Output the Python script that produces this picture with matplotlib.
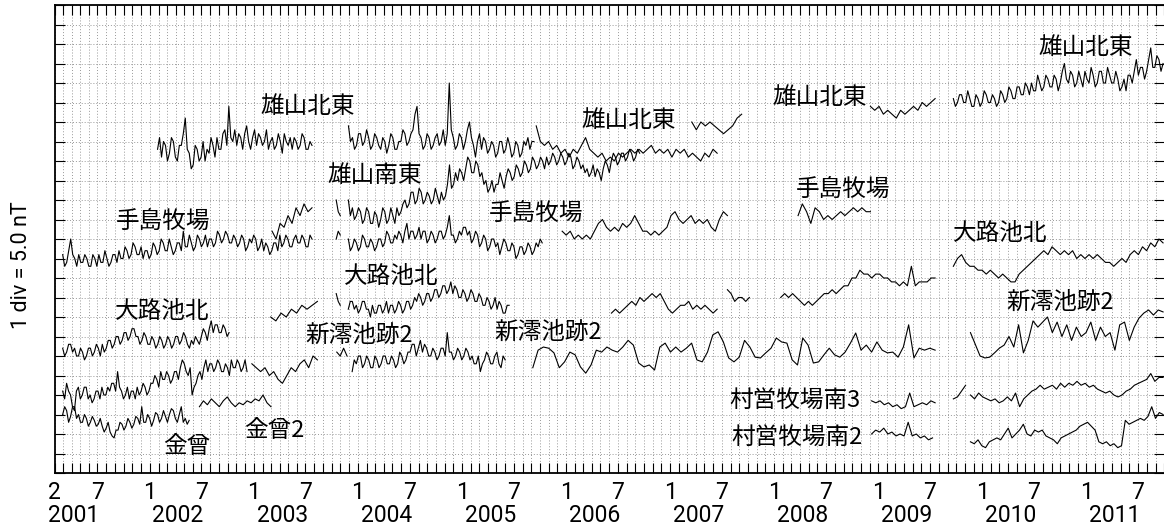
import numpy as np
import pandas as pd
import matplotlib
matplotlib.use("Agg")
import matplotlib.pyplot as plt
import matplotlib.dates as mdates
from matplotlib.ticker import FixedLocator, FixedFormatter, MultipleLocator, NullFormatter

# ====================== DATA (nT, relative offsets) ======================
# each trace: (start, end) span + values sampled evenly inside it, None = gap

# 雄山北東
oyama_ne_a_span = ("2002-01-28", "2003-07-24")
oyama_ne_a = [83, 86, 81, 85, 84, 80, 82, 86, 85, 81, 80, 84, 84, 87, 91, 83, 82, 78, 79, 84,
              83, 80, 81, 85, 80, 83, 82, 86, 84, 81, 86, 83, 83, 87, 88, 84, 94, 86, 85, 88,
              84, 87, 86, 83, 87, 89, 85, 83, 86, 88, 84, 87, 86, 84, 85, 88, 83, 85, 86, 83,
              84, 87, 85, 82, 87, 85, 84, 86, 83, 86, 85, 83, 84, 87, 86, 83, 83, 85, 84]
oyama_ne_b1_span = ("2003-11-29", "2005-09-10")
oyama_ne_b1 = [89, 85, 86, 83, 84, 87, 87, 84, 85, 88, 86, 83, 84, 87, 86, 84, 83, 86, 85, 82,
               84, 87, 86, 83, 83, 85, 85, 88, 87, 84, 85, 87, 88, 92, 94, 87, 86, 83, 84, 87,
               86, 83, 84, 86, 87, 84, 85, 88, 84, 87, 100, 88, 86, 83, 84, 87, 86, 83, 85, 88,
               90, 86, 84, 81, 85, 87, 83, 86, 85, 82, 83, 85, 84, 81, 82, 85, 85, 82, 83, 86,
               84, 81, 82, 85, 84, 81, 82, 85, 84, 86, 83, 85, 85]
oyama_ne_b2_span = ("2005-09-18", "2007-06-15")
oyama_ne_b2 = [89, 85, 84, 85, 83, 84, 82, 83, 81, 83, 82, 84, 86, 83, 82, 81, 82, 80, 81, 80,
               82, 81, 82, 83, 82, 83, 82, 83, 84, 82, 83, 82, 83, 81, 83, 82, 83, 81, 82, 81,
               80, 82, 81, 83, 82]
oyama_ne_c_span = ("2007-03-18", "2007-09-09")
oyama_ne_c = [90, 88, 90, 89, 90, 89, 88, 87, 88, 89, 91, 92]
oyama_ne_d_span = ("2008-12-04", "2009-07-19")
oyama_ne_d = [94, 93, 94, 92, 93, 92, 91, 93, 92, 93, 94, 93, 95, 94, 95, 96]
oyama_ne_e_span = ("2009-09-21", "2011-09-27")
oyama_ne_e = [96, 94, 95, 97, 97, 95, 95, 98, 96, 94, 94, 97, 96, 94, 95, 98, 97, 95, 95, 97,
              96, 94, 95, 98, 97, 95, 96, 99, 98, 96, 96, 99, 99, 97, 97, 100, 99, 97, 100, 98,
              98, 102, 100, 98, 99, 102, 101, 99, 99, 102, 101, 98, 100, 103, 105, 101, 100, 103, 102, 99,
              100, 103, 101, 99, 103, 101, 100, 104, 102, 99, 100, 103, 103, 100, 100, 104, 102, 100, 100, 103,
              101, 98, 99, 101, 98, 102, 102, 100, 103, 106, 102, 104, 104, 101, 103, 106, 109, 104, 104, 107,
              106, 103, 105]

# 雄山南東
oyama_se_a_span = ("2003-03-06", "2003-07-24")
oyama_se_a = [62, 60, 64, 63, 66, 64, 68, 66, 69, 67, 68]
oyama_se_b_span = ("2003-10-17", "2006-09-16")
oyama_se_b = [70, 67, 66, None, None, None, 70, 66, 68, 65, 66, 68, 67, 64, 65, 68, 67, 64, 64, 67,
              66, 63, 65, 68, 67, 64, 65, 68, 66, 64, 68, 66, 67, 69, 70, 68, 69, 72, 72, 69,
              70, 73, 72, 69, 70, 72, 71, 69, 70, 73, 71, 69, 72, 70, 71, 74, 79, 73, 74, 77,
              75, 78, 77, 75, 78, 81, 80, 77, 77, 80, 79, 76, 77, 74, 75, 72, 73, 75, 72, 74,
              74, 77, 75, 73, 76, 78, 77, 75, 76, 79, 78, 76, 77, 80, 79, 77, 78, 81, 80, 78,
              79, 81, 80, 78, 81, 79, 80, 82, 81, 79, 80, 82, 81, 79, 80, 82, 81, 78, 79, 81,
              80, 78, 79, 77, 78, 76, 77, 79, 76, 78, 77, 75, 78, 80, 79, 77, 80, 82, 81, 79,
              80, 82, 82, 80, 81, 83, 82, 80, 81, 83, 82]

# 手島牧場
teshima_a_span = ("2001-03-01", "2003-07-24")
teshima_a = [56, 53, 54, 57, 60, 56, 55, 53, 56, 54, 54, 56, 55, 53, 53, 56, 55, 53, 56, 54,
             54, 57, 55, 53, 54, 56, 56, 54, 57, 55, 55, 58, 57, 55, 56, 59, 58, 56, 56, 58,
             55, 57, 57, 55, 56, 59, 58, 56, 57, 60, 59, 57, 57, 60, 58, 56, 57, 59, 59, 57,
             62, 58, 58, 61, 59, 57, 58, 61, 60, 58, 59, 61, 58, 60, 60, 58, 59, 62, 61, 59,
             60, 62, 61, 59, 59, 61, 60, 58, 59, 61, 60, 57, 58, 60, 59, 61, 60, 57, 58, 60,
             57, 59, 58, 56, 57, 59, 59, 57, 61, 58, 59, 61, 60, 58, 58, 60, 61, 59, 59, 61,
             60, 58, 58, 61, 60]
teshima_b_span = ("2003-10-17", "2005-10-09")
teshima_b = [60, 62, 61, None, None, None, 60, 57, 58, 60, 59, 57, 58, 61, 60, 58, 58, 60, 59, 57,
             58, 60, 60, 58, 59, 62, 61, 59, 59, 61, 60, 62, 61, 59, 62, 64, 60, 62, 62, 60,
             61, 63, 60, 62, 62, 59, 60, 62, 61, 59, 60, 62, 62, 60, 61, 63, 66, 61, 61, 59,
             60, 62, 61, 63, 63, 61, 62, 59, 60, 62, 61, 58, 59, 61, 60, 57, 58, 60, 60, 58,
             59, 56, 58, 60, 59, 57, 57, 59, 58, 55, 56, 58, 58, 56, 57, 59, 58, 56, 57, 59,
             58, 60, 59]
teshima_c_span = ("2005-12-18", "2007-07-21")
teshima_c = [62, 61, 62, 60, 61, 60, 61, 60, 62, 64, 65, 63, 62, 63, 62, 64, 63, 64, 66, 64,
             62, 62, 61, 62, 61, 62, 63, 66, 67, 65, 64, 65, 66, 64, 65, 64, 65, 63, 62, 65,
             67, 66]
teshima_d_span = ("2008-03-25", "2008-12-04")
teshima_d = [66, 69, 67, 64, 68, 67, 65, 66, 65, 66, 67, 66, 67, 68, 67, 68, 67, 67]

# 大路池北
oji_a_span = ("2001-03-01", "2002-10-06")
oji_a = [32, 30, 31, 33, 33, 31, 32, 30, 30, 32, 31, 29, 30, 32, 32, 30, 31, 33, 32, 30,
         33, 31, 32, 34, 34, 32, 33, 35, 35, 33, 34, 36, 36, 34, 35, 37, 37, 35, 35, 33,
         34, 36, 35, 33, 33, 35, 34, 32, 33, 35, 34, 32, 33, 35, 34, 32, 33, 35, 35, 33,
         34, 36, 35, 33, 32, 34, 33, 35, 34, 33, 35, 37, 36, 34, 37, 39, 36, 38, 38, 36,
         36, 38, 37, 35, 36]
oji_b_span = ("2003-03-01", "2003-08-12")
oji_b = [40, 39, 41, 40, 42, 41, 43, 42, 43, 44]
oji_c_span = ("2003-10-17", "2005-06-15")
oji_c = [46, 44, 43, None, None, None, 42, 44, 44, 42, 43, 41, 42, 44, 44, 42, 42, 40, 43, 41,
         41, 43, 43, 41, 42, 44, 41, 43, 43, 41, 42, 44, 43, 41, 42, 44, 44, 42, 43, 45,
         44, 46, 45, 43, 44, 46, 46, 44, 45, 47, 47, 45, 46, 48, 48, 46, 47, 49, 46, 48,
         47, 45, 45, 47, 46, 44, 45, 47, 46, 44, 44, 46, 45, 43, 43, 45, 44, 42, 43, 45,
         42, 44, 43, 41, 41, 43, 43]
oji_d_span = ("2006-06-09", "2007-06-15")
oji_d = [41, 42, 41, 42, 43, 44, 43, 45, 44, 45, 46, 45, 46, 44, 42, 41, 42, 43, 43, 44,
         42, 43, 42, 43, 42, 41, 42]
oji_e_span = ("2007-07-21", "2007-10-06")
oji_e = [47, 46, 44, 45, 45, 44, 45]
oji_f_span = ("2008-01-24", "2009-07-19")
oji_f = [45, 46, 45, 46, 45, 44, 43, 44, 43, 44, 45, 46, 46, 47, 46, 47, 48, 48, 50, 50,
         52, 51, 51, 50, 51, 51, 50, 50, 49, 49, 48, 49, 48, 53, 48, 49, 49, 49, 50, 50]
oji_g_span = ("2009-09-21", "2011-09-27")
oji_g = [53, 55, 56, 54, 53, 53, 52, 52, 51, 52, 51, 50, 51, 50, 49, 49, 51, 52, 53, 54,
         55, 56, 57, 56, 58, 57, 56, 57, 56, 57, 55, 56, 55, 56, 55, 56, 55, 54, 54, 53,
         54, 55, 54, 56, 57, 56, 58, 57, 59, 58, 60, 59]

# 新澪池跡2
shinmio_a_span = ("2001-03-01", "2002-12-08")
shinmio_a = [21, 19, 23, 21, 20, 17, 16, 21, 22, 19, 20, 22, 22, 19, 20, 18, 19, 21, 21, 19,
             22, 20, 20, 22, 21, 23, 23, 21, 26, 22, 21, 19, 20, 22, 19, 21, 21, 19, 22, 20,
             21, 23, 22, 20, 21, 23, 23, 25, 24, 22, 26, 24, 24, 26, 25, 23, 24, 26, 26, 24,
             27, 29, 28, 26, 25, 27, 20, 22, 23, 25, 26, 24, 27, 29, 26, 28, 28, 26, 27, 29,
             28, 26, 26, 28, 27, 25, 29, 27, 27, 29, 28, 26, 27, 29, 26]
shinmio_b_span = ("2002-12-25", "2003-08-12")
shinmio_b = [28, 27, 26, 27, 25, 26, 24, 23, 25, 27, 26, 28, 29, 27, 30, 29]
shinmio_c0_span = ("2003-10-19", "2003-11-24")
shinmio_c0 = [31, 30, 32, 30]
shinmio_c_span = ("2003-12-12", "2005-06-01")
shinmio_c = [26, 29, 28, 30, 30, 27, 28, 30, 29, 27, 27, 30, 29, 27, 28, 30, 30, 28, 28, 30,
             29, 27, 28, 31, 30, 28, 29, 31, 31, 33, 33, 30, 32, 34, 31, 33, 32, 30, 30, 32,
             31, 29, 30, 32, 32, 30, 36, 31, 31, 29, 30, 32, 31, 29, 30, 32, 31, 29, 30, 28,
             28, 30, 26, 28, 29, 31, 30, 28, 28, 30, 31, 28, 27, 30, 29]
shinmio_d_span = ("2005-09-06", "2009-07-19")
shinmio_d = [27, 31.5, 32.3, 32, 30.8, 27, 28.5, 31, 30.3, 27.2, 25.6, 27.7, 31.5, 31, 32.3, 31.5,
             31, 32.3, 34, 32.8, 28.2, 27.2, 27.7, 26.4, 32.3, 33.3, 31, 32.3, 31, 32, 33.3, 29,
             28.5, 31, 35.4, 36.2, 33.6, 29.5, 28.5, 29.7, 34, 32.3, 29.7, 29.5, 30.8, 32, 34.6, 33.6,
             33.3, 29, 27.7, 34.6, 32.8, 28.2, 28.5, 30.3, 32, 30.3, 29.7, 31, 33.3, 35.9, 31.5, 32.8,
             31, 33.6, 31.5, 30.8, 31, 29.7, 32.3, 38, 29.5, 32, 31.5, 32, 31.5]
shinmio_e_span = ("2009-11-20", "2011-09-27")
shinmio_e = [36, 33, 30, 29.5, 29.7, 30.8, 32, 32.8, 35, 32.3, 38, 30.8, 34, 39, 37.4, 38.7,
             40, 36, 38.7, 35, 38, 34, 37.4, 35, 36, 38.7, 34, 37.4, 35, 36, 31.5, 38,
             38.7, 34, 37.4, 39.7, 41, 41.8, 40.5, 41.8, 41.3]

# 金曾, 金曾2
kaneso_span = ("2001-03-01", "2002-05-19")
kaneso = [15, 17, 16, 13, 14.5, 17, 17, 14, 15, 13, 13, 15, 14, 12, 13, 14.5, 13.5, 12, 12.5, 14,
          12, 10.5, 11.5, 13, 10.5, 9.5, 9, 11, 11, 13, 12.5, 11, 12, 14, 13, 11.5, 12.5, 14.5,
          14, 12.5, 17, 13, 13, 15, 14, 12, 13.5, 15.5, 15, 13, 14, 16, 14.5, 13, 15, 16.5,
          16, 14, 13, 15, 17, 13, 14, 12.5, 13.5]
kaneso2_span = ("2002-06-24", "2003-03-02")
kaneso2 = [17, 18.5, 17.5, 19, 18, 17, 18.5, 19.5, 18, 17, 18, 17.5, 18.5, 18, 19, 18.5, 20, 18, 17]

# 村営牧場南3
sonei3_a_span = ("2008-12-08", "2009-07-19")
sonei3_a = [18.5, 18, 18.5, 17.5, 18, 17, 17.5, 16.5, 17, 20.5, 17, 17.5, 18, 17.5, 18.5, 18]
sonei3_b_span = ("2009-09-21", "2009-11-03")
sonei3_b = [19, 19.5, 21, 22.5]
sonei3_c_span = ("2009-11-20", "2011-09-27")
sonei3_c = [20, 19, 20.5, 19.5, 19, 18.5, 19, 18, 18.5, 19.5, 18.5, 20.5, 17, 19, 20, 21,
            21.5, 22.5, 21.5, 22, 22.5, 21.5, 23, 22, 23, 22.5, 23.5, 22.5, 23, 22, 22.5, 21.5,
            21, 20.5, 21, 20, 19.5, 20, 21, 21.5, 22.5, 23, 23.5, 24, 25.5, 23.5, 24.5, 24.5]

# 村営牧場南2
sonei2_a_span = ("2008-12-08", "2009-07-10")
sonei2_a = [10, 11, 10.5, 11.5, 10, 10.5, 9.5, 10, 9.5, 13, 9.5, 10, 9, 9.5, 8.5, 9]
sonei2_b_span = ("2009-11-20", "2011-09-27")
sonei2_b = [8, 7.5, 8.5, 7, 6.5, 8, 8.5, 9, 8.5, 10, 11.5, 9, 10, 11, 12.5, 10, 9.5, 11,
            10.5, 11, 9.5, 9, 8.5, 7.5, 9, 9.5, 10, 10.5, 11, 12, 12.5, 13, 12, 11, 8, 7.5,
            8, 7, 7.5, 6.5, 7, 13.5, 12.5, 13, 13.5, 14, 13.5, 14.5, 17, 14, 15.5, 15]

traces = [
    (oyama_ne_a_span, oyama_ne_a), (oyama_ne_b1_span, oyama_ne_b1), (oyama_ne_b2_span, oyama_ne_b2),
    (oyama_ne_c_span, oyama_ne_c), (oyama_ne_d_span, oyama_ne_d), (oyama_ne_e_span, oyama_ne_e),
    (oyama_se_a_span, oyama_se_a), (oyama_se_b_span, oyama_se_b),
    (teshima_a_span, teshima_a), (teshima_b_span, teshima_b), (teshima_c_span, teshima_c),
    (teshima_d_span, teshima_d),
    (oji_a_span, oji_a), (oji_b_span, oji_b), (oji_c_span, oji_c), (oji_d_span, oji_d),
    (oji_e_span, oji_e), (oji_f_span, oji_f), (oji_g_span, oji_g),
    (shinmio_a_span, shinmio_a), (shinmio_b_span, shinmio_b), (shinmio_c0_span, shinmio_c0),
    (shinmio_c_span, shinmio_c), (shinmio_d_span, shinmio_d), (shinmio_e_span, shinmio_e),
    (kaneso_span, kaneso), (kaneso2_span, kaneso2),
    (sonei3_a_span, sonei3_a), (sonei3_b_span, sonei3_b), (sonei3_c_span, sonei3_c),
    (sonei2_a_span, sonei2_a), (sonei2_b_span, sonei2_b),
]

# station names and where they are written (date, nT)
station_labels = [
    ("雄山北東", "2003-07-08", 94.1), ("雄山南東", "2004-02-28", 76.4),
    ("手島牧場", "2002-02-15", 64.4), ("雄山北東", "2006-08-08", 90.5),
    ("手島牧場", "2005-09-18", 66.4), ("大路池北", "2004-04-27", 50.5),
    ("大路池北", "2002-02-12", 41.3), ("新澪池跡2", "2004-01-06", 35.4),
    ("新澪池跡2", "2005-10-31", 36.2), ("金曾", "2002-05-12", 6.7),
    ("金曾2", "2003-03-12", 10.8), ("村営牧場南3", "2008-03-15", 18.7),
    ("村営牧場南2", "2008-03-21", 9.2), ("雄山北東", "2008-06-09", 96.4),
    ("手島牧場", "2008-08-29", 72.6), ("大路池北", "2010-03-06", 61.3),
    ("新澪池跡2", "2010-09-30", 43.8), ("雄山北東", "2010-12-31", 109.2),
]

years = list(range(2001, 2012))

# ====================== FIGURE ======================
plt.rcParams['font.family'] = ['Roboto', 'DejaVu Sans']
cjk = ['Noto Sans CJK JP', 'DejaVu Sans']

fig = plt.figure(figsize=(11.64, 5.32), dpi=100)
ax = fig.add_axes([54.7 / 1164, 59 / 532, 1109.5 / 1164, 468 / 532])

for span, vals in traces:
    y = np.array(vals, dtype=float)
    x = pd.date_range(span[0], span[1], periods=len(y))
    ax.plot(x, y, color='black', linewidth=0.8)

for name, d, v in station_labels:
    ax.text(pd.Timestamp(d), v, name, family=cjk, fontsize=17,
            ha='center', va='center')

ax.set_xlim(pd.Timestamp("2001-02-01"), pd.Timestamp("2011-10-01"))
ax.set_ylim(0, 120)

# x ticks: "2" at start, then Jan / Jul of each year; minor every month
major_dates = [pd.Timestamp("2001-02-01")]
major_labels = ["2"]
for yr in years:
    for mo in (1, 7):
        if yr == 2001 and mo == 1:
            continue
        major_dates.append(pd.Timestamp(f"{yr}-{mo:02d}-01"))
        major_labels.append(str(mo))
ax.xaxis.set_major_locator(FixedLocator(mdates.date2num(major_dates)))
ax.xaxis.set_major_formatter(FixedFormatter(major_labels))
ax.xaxis.set_minor_locator(mdates.MonthLocator())
ax.yaxis.set_major_locator(MultipleLocator(5))
ax.yaxis.set_major_formatter(NullFormatter())

ax.tick_params(axis='x', which='both', direction='in', top=True, bottom=True,
               length=7, width=0.8, labelsize=16.5, pad=6)
ax.tick_params(axis='y', which='both', direction='in', left=True, right=True,
               length=7.5, width=0.8)

for yr in years:
    ax.annotate(str(yr), xy=(pd.Timestamp(f"{yr}-04-10"), 0),
                xycoords=('data', 'axes fraction'), xytext=(0, -22.5),
                textcoords='offset points', ha='center', va='top', fontsize=16.5)

ax.grid(True, which='major', axis='y', color='#999999', linestyle=(0, (1, 2)), linewidth=0.7)
ax.grid(True, which='both', axis='x', color='#999999', linestyle=(0, (1, 2)), linewidth=0.7)
ax.set_axisbelow(True)

for s in ('left', 'top', 'bottom'):
    ax.spines[s].set_linewidth(1.3)
ax.spines['right'].set_visible(False)

fig.text(22 / 1164, 1 - 265 / 532, "1 div = 5.0 nT", rotation=90,
         ha='center', va='center', fontsize=15.5)

fig.savefig("out.png", dpi=100)
